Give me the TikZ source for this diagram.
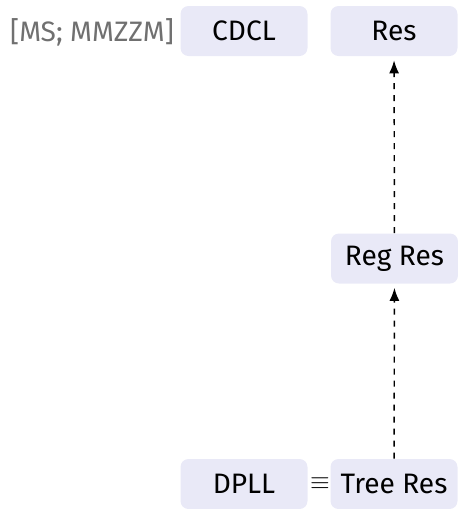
\documentclass[tikz,border=0pt]{standalone}
\usepackage{fontspec}
\setmainfont{Fira Sans}
\usepackage{tikz}
\usetikzlibrary{arrows.meta}
\definecolor{boxfill}{HTML}{E9E9F7}
\definecolor{citegray}{HTML}{707070}

\begin{document}
\begin{tikzpicture}
\useasboundingbox (0,0) rectangle (9.14,-10.18);

\begin{scope}[every node/.style={rectangle,rounded corners=0.16cm,fill=boxfill,
              minimum width=2.54cm,minimum height=1cm,
              font=\fontsize{16}{19}\selectfont}]
    \node (cdcl) at (4.88,-0.62) {CDCL};
    \node (res) at (7.88,-0.62) {Res};
    \node (regres) at (7.89,-5.17) {Reg Res};
    \node (dpll) at (4.88,-9.68) {DPLL};
    \node (treeres) at (7.88,-9.68) {Tree Res};
    \end{scope}

\node[text=citegray,font=\fontsize{16}{19}\selectfont] (cite) at (1.84,-0.64) {[MS; MMZZM]};
\node[font=\fontsize{15}{18}\selectfont] (equiv) at (6.4,-9.68) {$\equiv$};

\begin{scope}[>={Latex[length=0.26cm,width=0.2cm]},
              every path/.style={draw=black,thick,dash pattern=on 0.12cm off 0.12cm}]
    \path [->,shorten >=0.08cm] (treeres) edge (regres);
    \path [->,shorten >=0.08cm] (regres) edge (res);
    \end{scope}

\end{tikzpicture}
\end{document}
